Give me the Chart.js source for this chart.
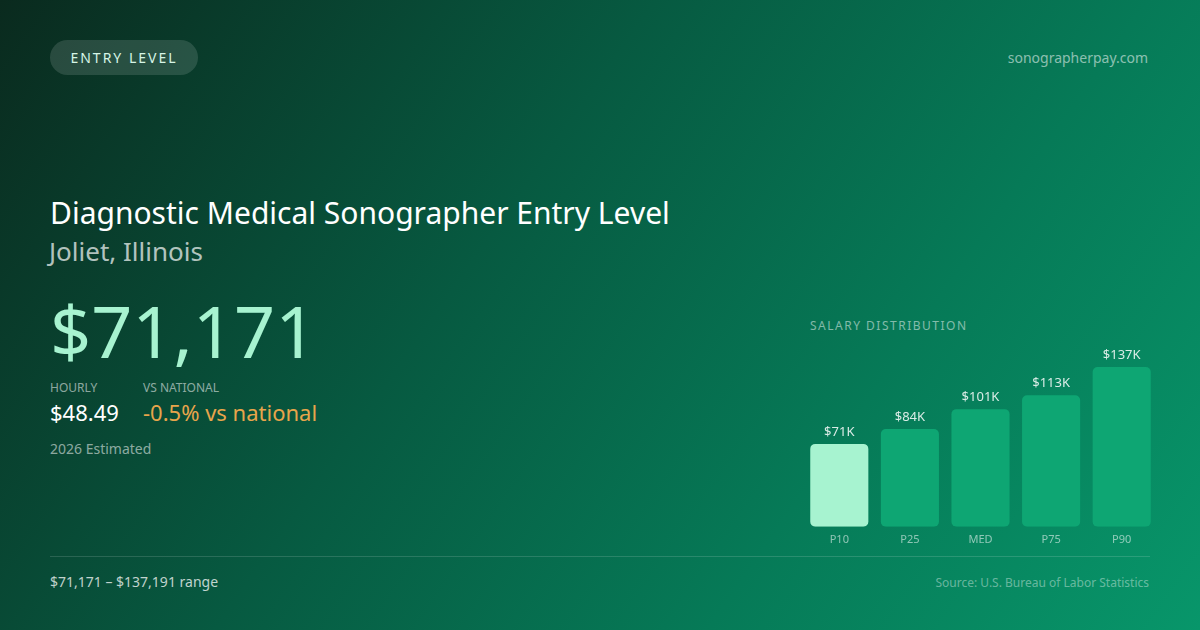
<!DOCTYPE html>
<html>
<head>
<meta charset="utf-8">
<script src="https://cdn.jsdelivr.net/npm/chart.js@4/dist/chart.umd.min.js"></script>
<style>
  html, body { margin: 0; padding: 0; }
  body {
    width: 1200px; height: 630px; overflow: hidden; position: relative;
    font-family: "Noto Sans", sans-serif;
    background: linear-gradient(125deg, #0a2a1e 0%, #075a41 40%, #067a57 70%, #08966a 100%);
    color: #fff;
  }
  .abs { position: absolute; white-space: nowrap; }
  .pill {
    left: 50px; top: 40px; width: 148px; height: 35px; border-radius: 18px;
    background: rgba(255,255,255,0.13); color: #d6f5e6;
    font-size: 14px; letter-spacing: 2px; line-height: 35px; text-align: center;
  }
  .site { right: 52px; top: 48px; font-size: 14px; color: rgba(255,255,255,0.55); }
  .title { left: 50px; top: 192px; font-size: 30px; color: #fff; }
  .sub { left: 49px; top: 233px; font-size: 26px; color: rgba(255,255,255,0.7); }
  .big { left: 50px; top: 287px; font-size: 72px; color: #a7f3d0; line-height: 1.2; }
  .lbl { top: 379px; font-size: 12px; color: rgba(255,255,255,0.55); }
  .val { top: 397px; font-size: 22px; }
  .est { left: 50px; top: 439px; font-size: 14px; color: rgba(255,255,255,0.55); }
  .rule { left: 50px; top: 556px; width: 1100px; height: 1px; background: rgba(255,255,255,0.14); }
  .range { left: 50px; top: 572px; font-size: 14px; color: rgba(255,255,255,0.75); }
  .src { right: 51px; top: 574px; font-size: 12px; color: rgba(255,255,255,0.4); }
  .dist { left: 810px; top: 317px; font-size: 12px; letter-spacing: 1.5px; color: rgba(255,255,255,0.5); }
  #wrap { position: absolute; left: 804px; top: 340px; width: 353px; height: 212px; }
</style>
</head>
<body>
<div class="abs pill">ENTRY LEVEL</div>
<div class="abs site">sonographerpay.com</div>
<div class="abs title">Diagnostic Medical Sonographer Entry Level</div>
<div class="abs sub">Joliet, Illinois</div>
<div class="abs big">$71,171</div>
<div class="abs lbl" style="left:50px">HOURLY</div>
<div class="abs lbl" style="left:143px">VS NATIONAL</div>
<div class="abs val" style="left:50px;color:#fff">$48.49</div>
<div class="abs val" style="left:143px;color:#e8a54b">-0.5% vs national</div>
<div class="abs est">2026 Estimated</div>
<div class="abs dist">SALARY DISTRIBUTION</div>
<div id="wrap"><canvas id="salarios"></canvas></div>
<div class="abs rule"></div>
<div class="abs range">$71,171 – $137,191 range</div>
<div class="abs src">Source: U.S. Bureau of Labor Statistics</div>

<script>
// datos del grafico
let percentiles = ['P10', 'P25', 'MED', 'P75', 'P90'];
let salarios = [71171, 84000, 101000, 113000, 137191];
let etiquetas = ['$71K', '$84K', '$101K', '$113K', '$137K'];
let colores = ['#a7f3d0', '#0ea673', '#0ea673', '#0ea673', '#0ea673'];

// escribe el valor encima de cada barra
let etiquetasPlugin = {
    id: 'etiquetas',
    afterDatasetsDraw(chart) {
        let ctx = chart.ctx;
        let meta = chart.getDatasetMeta(0);
        ctx.save();
        ctx.font = '13px "Noto Sans"';
        ctx.fillStyle = 'rgba(255,255,255,0.85)';
        ctx.textAlign = 'center';
        ctx.textBaseline = 'bottom';
        meta.data.forEach(function(bar, i) {
            ctx.fillText(etiquetas[i], bar.x, bar.y - 5);
        });
        ctx.restore();
    }
};

let graf_salarios = document.getElementById('salarios');

if(graf_salarios){
    new Chart(graf_salarios, {
        type: 'bar',
        data: {
            labels: percentiles,
            datasets: [{
                data: salarios,
                backgroundColor: colores,
                borderRadius: 5,
                borderSkipped: false,
                barPercentage: 0.823,
                categoryPercentage: 1
            }]
        },
        options: {
            responsive: true,
            maintainAspectRatio: false,
            animation: false,
            layout: { padding: { top: 27, left: 0, right: 0, bottom: 0 } },
            plugins: { legend: { display: false }, tooltip: { enabled: false } },
            scales: {
                x: {
                    grid: { display: false, drawTicks: false },
                    border: { display: false },
                    ticks: {
                        color: 'rgba(255,255,255,0.55)',
                        font: { family: 'Noto Sans', size: 11 },
                        padding: 6
                    }
                },
                y: {
                    display: false,
                    min: 0,
                    max: Math.max.apply(null, salarios)
                }
            }
        },
        plugins: [etiquetasPlugin]
    });
}
</script>
</body>
</html>
